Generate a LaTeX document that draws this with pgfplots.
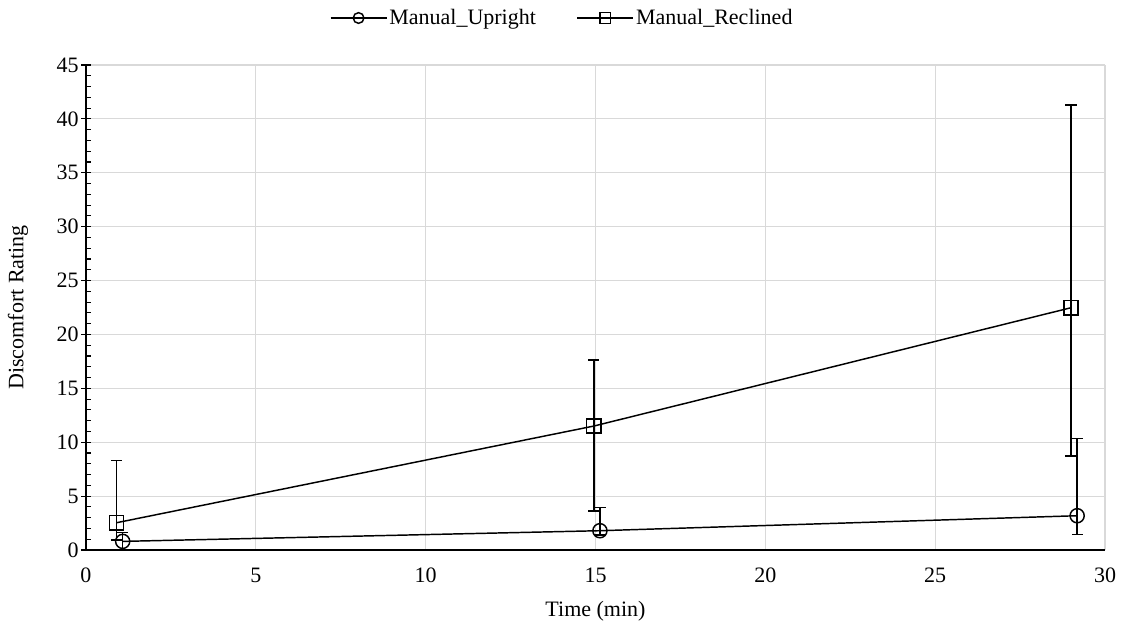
\documentclass[border=0pt]{standalone}
\usepackage{fontspec}
\setmainfont{Liberation Serif}
\usepackage{pgfplots}
\pgfplotsset{compat=1.18}
\usepackage{pgfplotstable}

\pgfplotstableread{
x     y     ep    em
1.08  0.80  0.80  0.80
15.13 1.79  2.17  0.40
29.18 3.18  7.18  1.73
}\upright

\pgfplotstableread{
x     y     ep    em
0.90  2.53  5.75  1.60
14.95 11.50 6.12  7.88
29.00 22.48 18.80 13.76
}\reclined

\begin{document}
\begin{tikzpicture}
\useasboundingbox (-64.5pt,-63.75pt) rectangle (780pt,412.5pt);
\begin{axis}[
  at={(0,0)}, anchor=south west,
  scale only axis,
  width=764.25pt, height=363.75pt,
  xmin=0, xmax=30, ymin=0, ymax=45,
  xtick={0,5,...,30}, ytick={0,5,...,45},
  minor y tick num=4,
  axis x line*=bottom, axis y line*=left,
  axis line style={black, line width=0.9pt, -},
  grid=major,
  major grid style={color=black!15, line width=0.9pt},
  x tick style={draw=none},
  y tick style={black, line width=0.8pt},
  tick align=inside,
  major tick length=7pt,
  minor tick length=4pt,
  major y tick style={xshift=-3.5pt},
  /pgf/number format/assume math mode=true,
  tick label style={font=\fontsize{16.5}{19}\selectfont},
  xticklabel style={yshift=-10pt},
  yticklabel style={xshift=-2pt},
  label style={font=\fontsize{16.5}{19}\selectfont},
  xlabel={Time (min)},
  ylabel={Discomfort Rating},
  xlabel style={at={(axis description cs:0.5,-0.1258)}, anchor=center},
  ylabel style={at={(axis description cs:-0.0667,0.5)}, anchor=center},
  legend style={at={(0.5,1)}, anchor=center, yshift=35.25pt, xshift=-25pt, draw=none,
    font=\fontsize{16.5}{19}\selectfont, legend columns=2,
    nodes={inner sep=1.5pt},
    /tikz/every even column/.append style={column sep=29pt}},
  legend image code/.code={
    \draw[#1, mark=none] (0pt,0pt) -- (42pt,0pt);
    \draw[#1, mark size=4pt, only marks] plot coordinates {(21pt,0pt)};
  },
]
\addplot[black, line width=1.1pt, mark=o, mark size=5.3pt,
  mark options={line width=1.1pt, fill=white},
  error bars/.cd, y dir=both, y explicit,
  error bar style={line width=1.1pt, black},
  error mark options={rotate=90, mark size=4.2pt, line width=1.1pt}]
  table[x=x, y=y, y error plus=ep, y error minus=em] {\upright};
\addlegendentry{Manual\_Upright}
\addplot[black, line width=1.1pt, mark=square, mark size=5.3pt,
  mark options={line width=1.1pt},
  error bars/.cd, y dir=both, y explicit,
  error bar style={line width=1.1pt, black},
  error mark options={rotate=90, mark size=4.2pt, line width=1.1pt}]
  table[x=x, y=y, y error plus=ep, y error minus=em] {\reclined};
\addlegendentry{Manual\_Reclined}
\end{axis}
\end{tikzpicture}
\end{document}
